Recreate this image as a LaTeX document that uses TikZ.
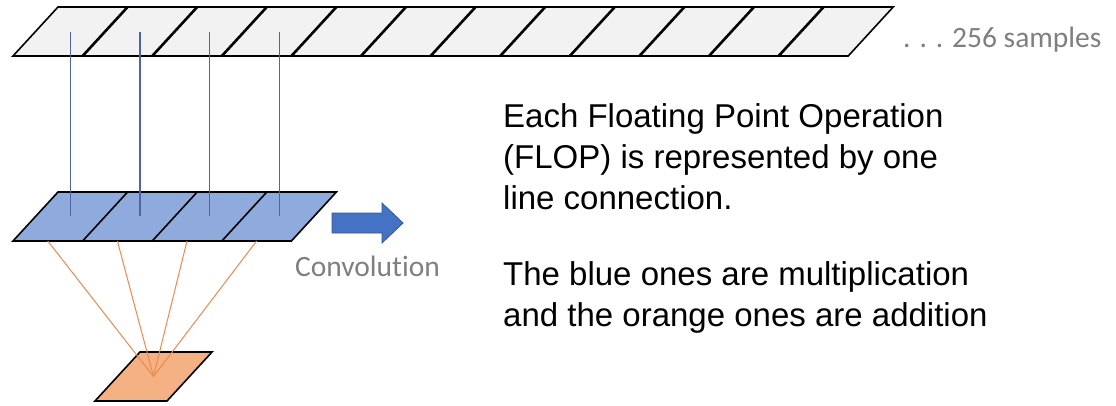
\documentclass[tikz,border=0pt]{standalone}
\usepackage{fontspec}
\setmainfont{Liberation Sans}
\newfontfamily\labelfont[Ligatures=NoCommon]{Carlito}
\usetikzlibrary{positioning}

\definecolor{cellgray}{HTML}{F2F2F2}
\definecolor{kernelblue}{HTML}{8FAADC}
\definecolor{outorange}{HTML}{F4B183}
\definecolor{mulline}{HTML}{4F64A0}
\definecolor{addline}{HTML}{E98A4E}
\definecolor{arrowblue}{HTML}{4472C4}
\definecolor{labelgray}{HTML}{7F7F7F}

\begin{document}
\begin{tikzpicture}[
      x=1pt, y=-1pt,
      strip/.style={draw, line width=1.6pt, line join=miter},
      divider/.style={line width=2.6pt},
      mul/.style={mulline, line width=1.2pt},
      add/.style={addline, line width=1pt},
      note/.style={font=\fontsize{33}{41}\selectfont, align=left, inner sep=0pt, anchor=base west},
      grey/.style={font=\labelfont\fontsize{29.5}{36}\selectfont, text=labelgray, inner sep=0pt}
    ]
    \useasboundingbox (0,0) rectangle (1116,405);

    % input samples (only the first 12 cells drawn)
    \filldraw[strip, fill=cellgray] (13,56) -- (58,7) -- (893.2,7) -- (848.2,56) -- cycle;
    \foreach \i in {1,...,11}
      \draw[divider] ({13+69.6*\i},56) -- ({58+69.6*\i},7);
    \node[grey, anchor=base west] (more) at (903,47) {. . . 256 samples};

    % kernel, 4 taps
    \filldraw[strip, fill=kernelblue] (13,241) -- (58,192) -- (336.4,192) -- (291.4,241) -- cycle;
    \foreach \i in {1,2,3}
      \draw[strip] ({13+69.6*\i},241) -- ({58+69.6*\i},192);

    % output sample
    \filldraw[strip, fill=outorange] (95,401) -- (140,352) -- (212,352) -- (167,401) -- cycle;
    \coordinate (out) at (153.5,376.5);

    \foreach \i in {0,...,3} {
      \coordinate (s\i) at ({70.3+69.6*\i},32);
      \coordinate (k\i) at ({70.3+69.6*\i},216);
      \coordinate (b\i) at ({47.8+69.6*\i},241);
    }
    \foreach \i in {0,...,3} {
      \draw[mul] (s\i) -- (k\i);
      \draw[add] (b\i) -- (out);
    }

    % sliding direction
    \filldraw[fill=arrowblue, draw=arrowblue!75!black, line width=0.8pt]
      (332,213) -- (382,213) -- (382,203) -- (403,223) -- (382,243) -- (382,233) -- (332,233) -- cycle;
    \coordinate (slide) at (367.5,233);
    \node[grey, below=23pt of slide] (conv) {Convolution};

    % base of a multi-line node sits on its last line
    \node[note] (flop) at (503,209) {Each Floating Point Operation\\(FLOP) is represented by one\\line connection.};
    \node[note] (ops) at (503,326) {The blue ones are multiplication\\and the orange ones are addition};
  \end{tikzpicture}
\end{document}
